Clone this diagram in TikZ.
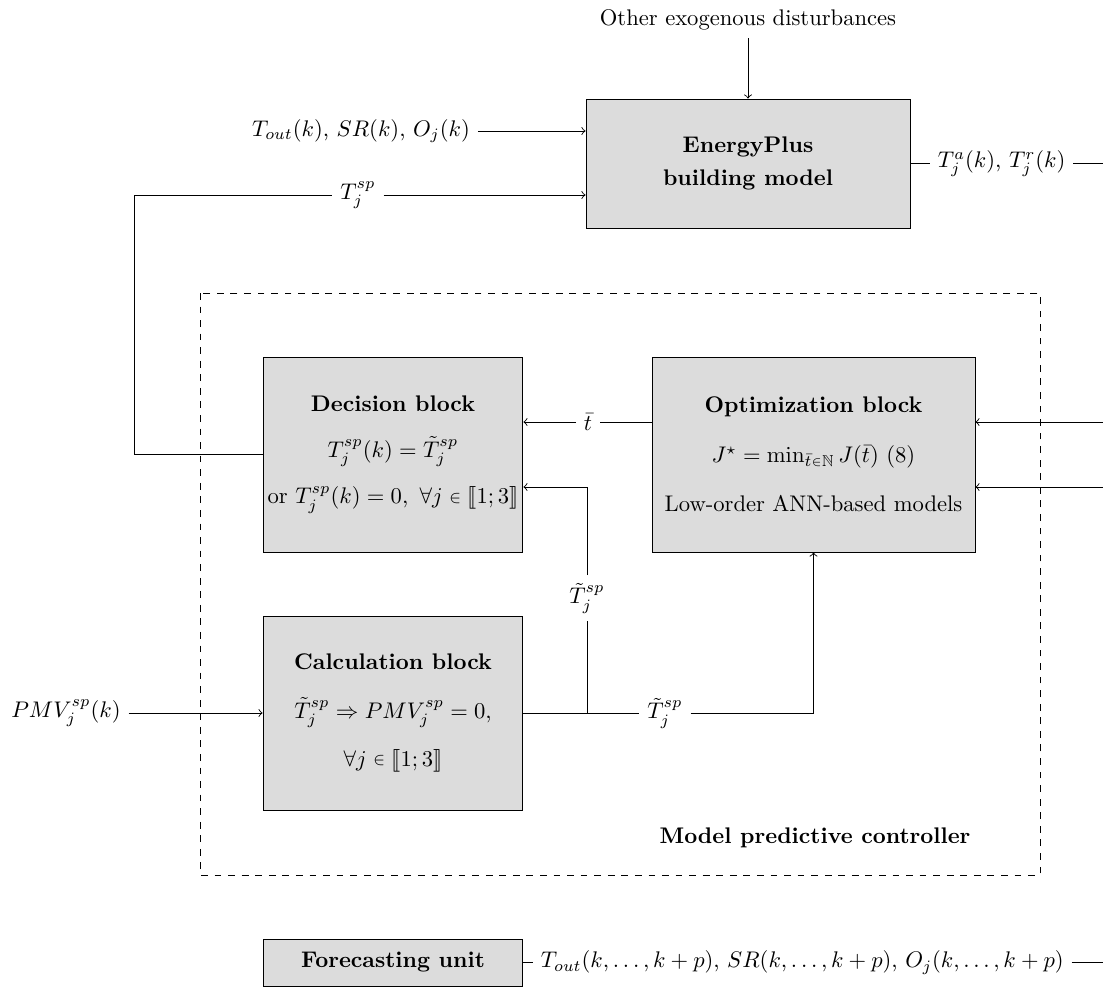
\documentclass[tikz,border=0pt]{standalone}
\usepackage{amssymb}
\usepackage{stmaryrd}
\definecolor{boxgray}{RGB}{220,220,220}
\newcommand\smin{\mathrel{\vcenter{\hbox{$\scriptstyle\in$}}}}
\newcommand\ssmin{\mathrel{\vcenter{\hbox{$\scriptscriptstyle\in$}}}}
\begin{document}
\begin{tikzpicture}[x=0.4425pt,y=-0.4425pt]
\tikzset{
  blk/.style={draw, fill=boxgray, inner sep=0pt, align=center},
  lbl/.style={inner sep=3.3pt},
}
\useasboundingbox (0,0) rectangle (1103,1007);
% dashed controller frame
\draw[dashed] (200,293) rectangle (1040,875);
\node[font=\bfseries] (mpc) at (815,838) {Model predictive controller};

% blocks
\node[blk, minimum width=143.4pt, minimum height=57.1pt] (ep) at (748,163.5)
  {\textbf{EnergyPlus}\\[2.5pt]\textbf{building model}};
\node[blk, minimum width=115pt, minimum height=86.3pt] (dec) at (393,454.5)
  {\textbf{Decision block}\\[8.5pt]$T_j^{sp}(k) = \tilde T_j^{sp}$\\[8.5pt]or $T_j^{sp}(k) = 0,\ \forall j \smin \llbracket 1;3\rrbracket$};
\node[blk, minimum width=142.9pt, minimum height=86.3pt] (opt) at (813.5,454.5)
  {\textbf{Optimization block}\\[10pt]$J^\star = \min_{\bar t\ssmin\mathbb{N}} J(\bar t)$ (8)\\[10pt]Low-order ANN-based models};
\node[blk, minimum width=115pt, minimum height=85.8pt] (calc) at (393,713)
  {\textbf{Calculation block}\\[9.5pt]$\tilde T_j^{sp} \Rightarrow PMV_j^{sp} = 0,$\\[9.5pt]$\forall j \smin \llbracket 1;3\rrbracket$};
\node[blk, minimum width=115pt, minimum height=20.8pt] (fc) at (393,962.5)
  {\textbf{Forecasting unit}};

% labels
\node[lbl] (oed) at (748,20) {Other exogenous disturbances};
\node[lbl] (tout) at (361,131) {$T_{out}(k)$, $SR(k)$, $O_j(k)$};
\node[lbl] (tsp) at (358,195) {$T_j^{sp}$};
\node[lbl, anchor=west] (ta) at (930,163.5) {$T_j^a(k)$, $T_j^r(k)$};
\node[lbl] (tbar) at (588,422) {$\bar t$};
\node[lbl] (pmv) at (66,713) {$PMV_j^{sp}(k)$};
\node[lbl] (tt1) at (587,598) {$\tilde T_j^{sp}$};
\node[lbl] (tt2) at (665,713) {$\tilde T_j^{sp}$};
\node[lbl, anchor=west] (fcl) at (533,962.5)
  {$T_{out}(k,\dots,k+p)$, $SR(k,\dots,k+p)$, $O_j(k,\dots,k+p)$};

% coordinates
\coordinate (e1) at (1103,163.5);
\coordinate (e2) at (1103,422);
\coordinate (e3) at (1103,487);
\coordinate (e4) at (1103,962.5);
\coordinate (c1) at (134,195);
\coordinate (j) at (587,713);

% connectors
\draw[->] (oed) -- (ep.north);
\draw[->] (tout) -- (ep.west |- tout);
\draw (dec.west) -| (c1) -- (tsp);
\draw[->] (tsp) -- (ep.west |- tsp);
\draw (ep.east) -- (ta.west);
\draw (ta.east) -- (e1);
\draw[->] (e2) -- (opt.east |- e2);
\draw[->] (e3) -- (opt.east |- e3);
\draw (opt.west |- tbar) -- (tbar);
\draw[->] (tbar) -- (dec.east |- tbar);
\draw[->] (pmv) -- (calc.west |- pmv);
\draw (calc.east |- j) -- (j) -- (tt1);
\draw[->] (tt1) |- (dec.east |- e3);
\draw (j) -- (tt2);
\draw[->] (tt2) -| (opt.south);
\draw (fc.east) -- (fcl.west);
\draw (fcl.east) -- (e4);
\end{tikzpicture}
\end{document}
